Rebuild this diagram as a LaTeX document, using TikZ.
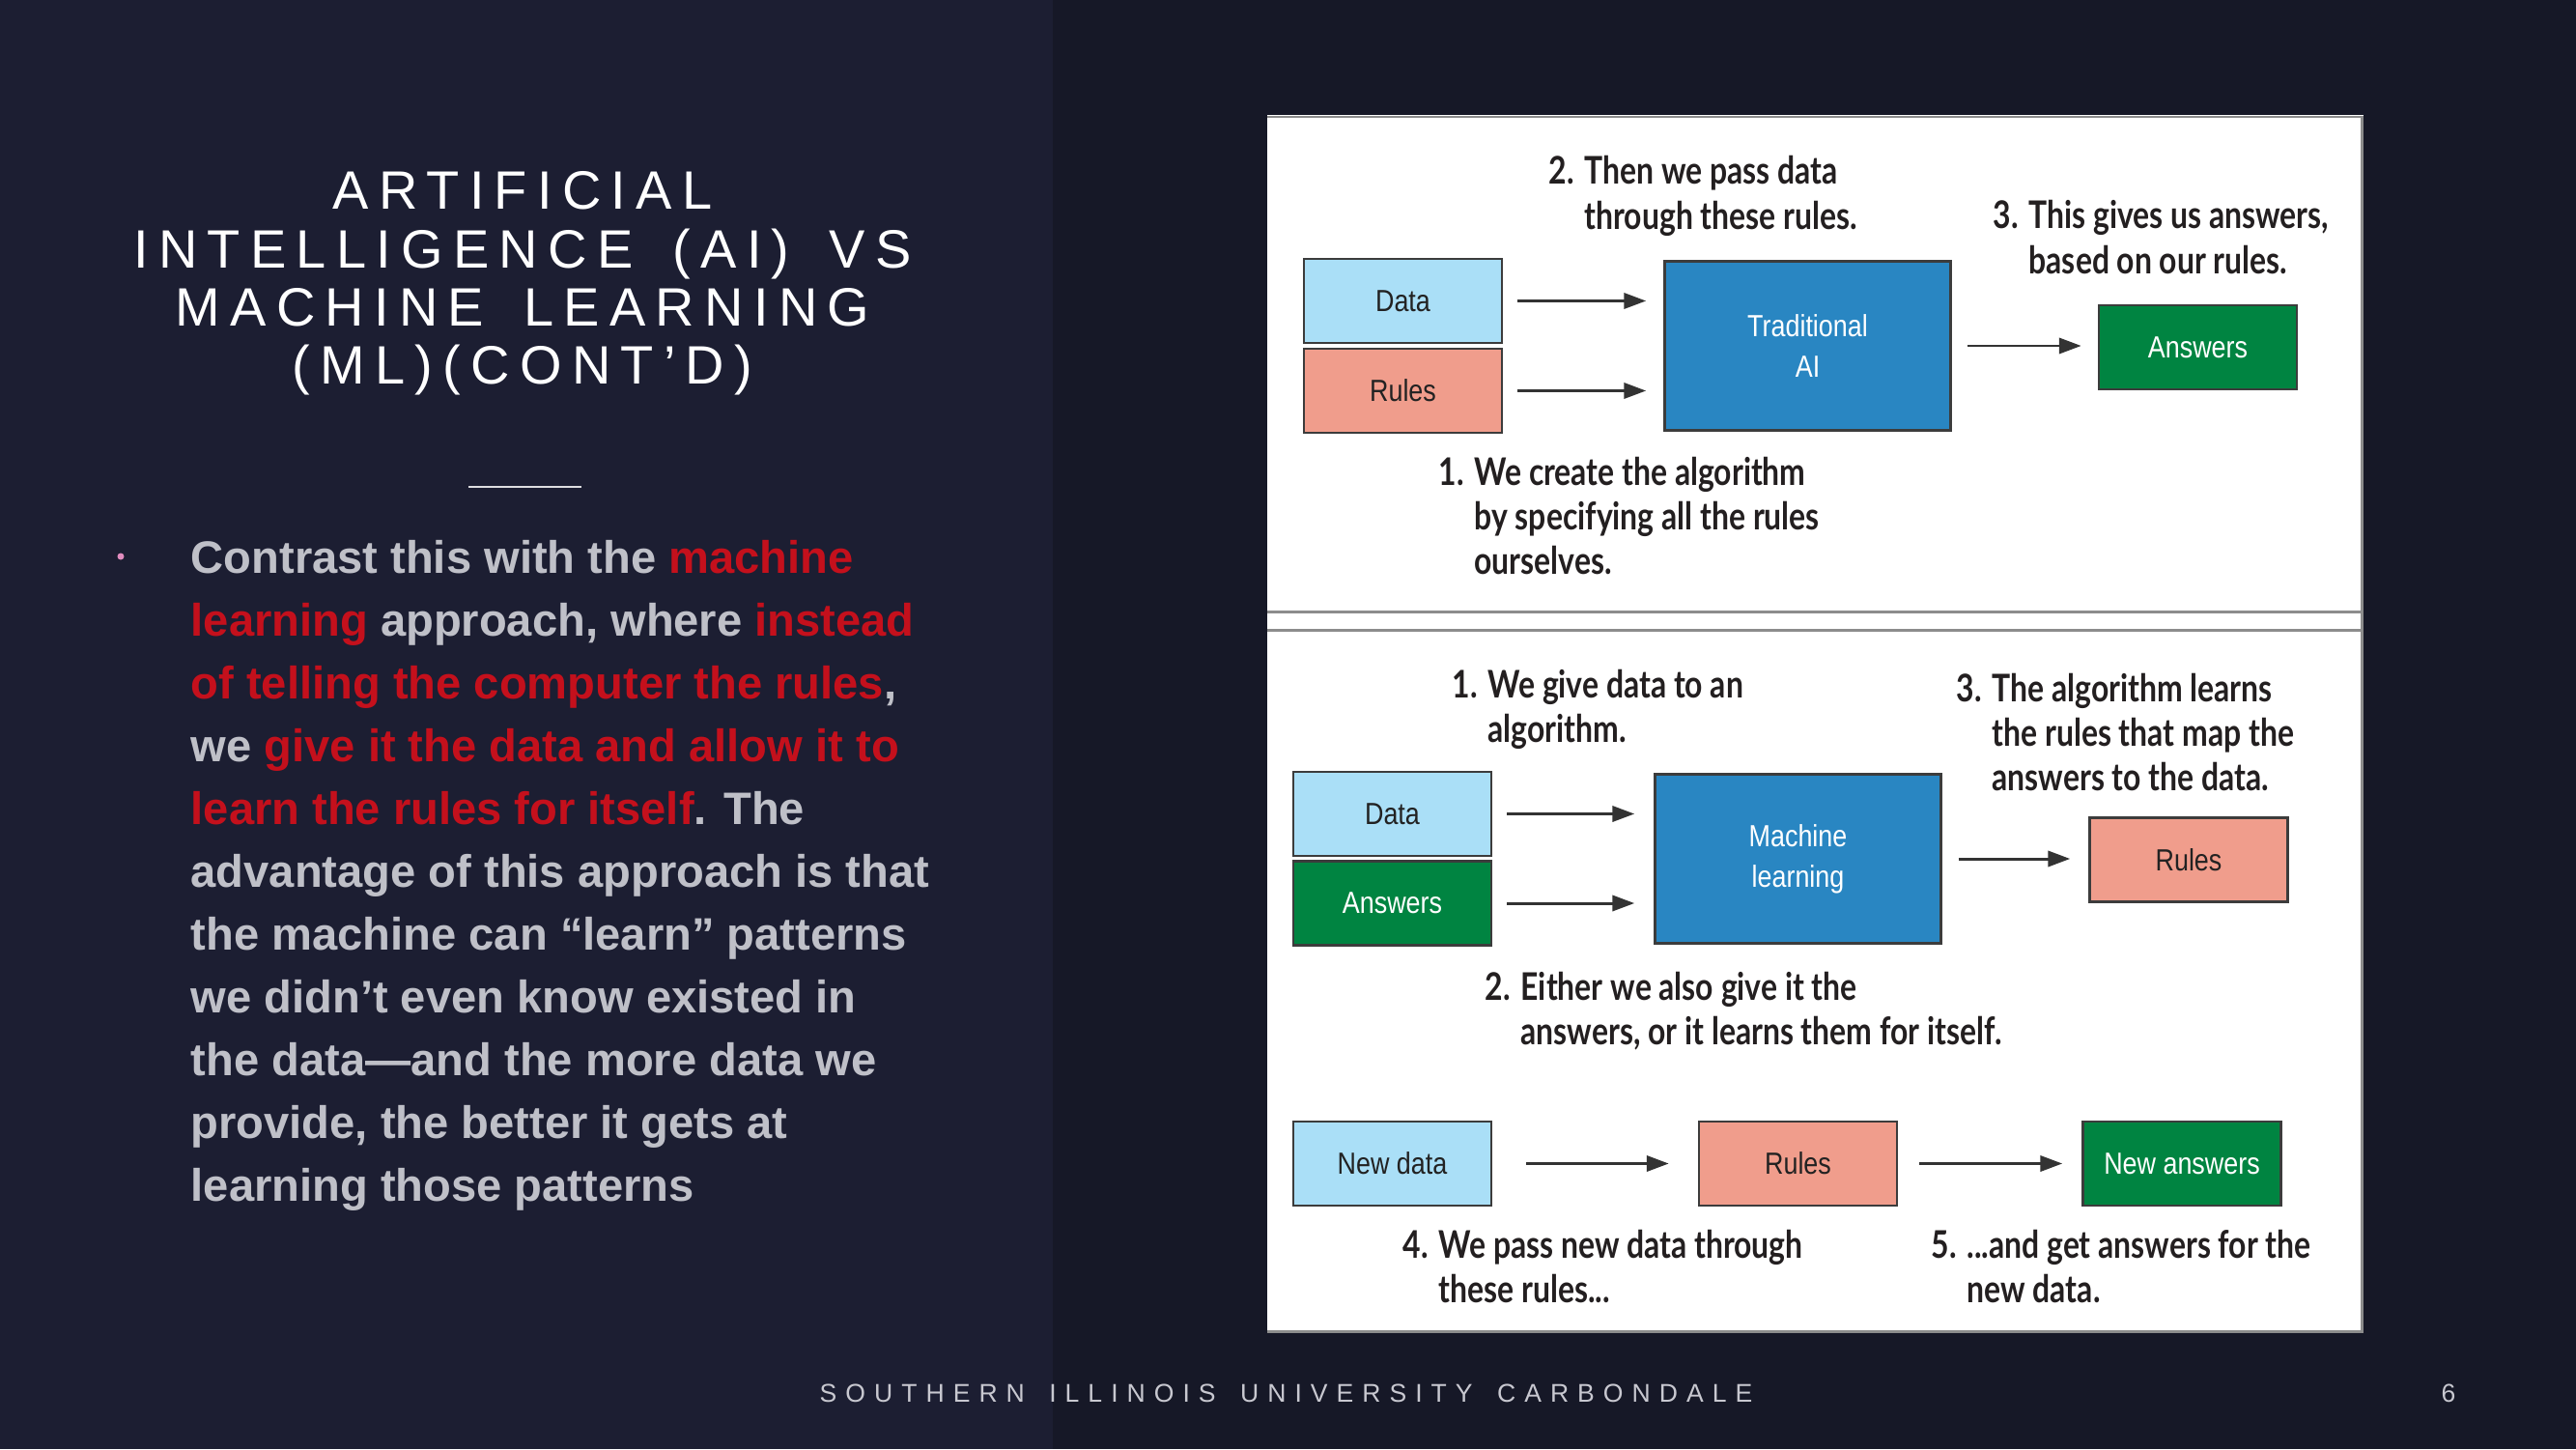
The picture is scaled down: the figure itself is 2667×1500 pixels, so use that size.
\documentclass[tikz,border=0pt]{standalone}
\usepackage{fontspec}
\usetikzlibrary{arrows.meta}
\setmainfont{Liberation Sans}
\newfontfamily\titlefont[LetterSpace=18.4,WordSpace=1.6]{Liberation Sans}
\newfontfamily\footfont[LetterSpace=34,WordSpace=1.55]{Liberation Sans}
\newfontfamily\boxfont[FakeStretch=0.85]{Liberation Sans}
\newfontfamily\labfont[FakeStretch=0.81]{Lato}

\definecolor{leftbg}{HTML}{1C1E32}
\definecolor{rightbg}{HTML}{161827}
\definecolor{bodygray}{HTML}{BFC0C8}
\definecolor{hired}{HTML}{C4101C}
\definecolor{bulletpink}{HTML}{E08CBE}
\definecolor{footgray}{HTML}{C8C8D0}
\definecolor{panelline}{HTML}{8C8C8C}
\definecolor{datablue}{HTML}{AADFF7}
\definecolor{rulesred}{HTML}{F09D8C}
\definecolor{aiblue}{HTML}{2986C2}
\definecolor{ansgreen}{HTML}{008441}
\definecolor{boxline}{HTML}{3C3C3C}
\definecolor{arrowgray}{HTML}{333333}
\definecolor{labtext}{HTML}{231F20}
\definecolor{boxtext}{HTML}{222222}

\newcommand{\hl}[1]{\textcolor{hired}{#1}}

\tikzset{
  box/.style={draw=boxline, line width=0.7pt, inner sep=0pt,
    minimum width=2.05cm, minimum height=0.87cm, align=center,
    font=\boxfont\fontsize{9}{12}\selectfont},
  bigbox/.style={box, minimum width=2.96cm, minimum height=1.75cm, fill=aiblue, text=white},
  databox/.style={box, fill=datablue, text=boxtext},
  rulesbox/.style={box, fill=rulesred, text=boxtext},
  ansbox/.style={box, fill=ansgreen, text=white},
  arr/.style={draw=arrowgray, line width=0.85pt, -{Triangle[length=6.5pt,width=4.6pt]}},
  lab/.style={anchor=base west, inner sep=0pt, text=labtext,
    font=\labfont\bfseries\fontsize{11.2}{13.2}\selectfont},
  pline/.style={draw=panelline, line width=0.85pt},
}

\begin{document}
\begin{tikzpicture}[x=0.01cm, y=-0.01cm]
\useasboundingbox (0,0) rectangle (2667,1500);

% backgrounds
\fill[rightbg] (0,0) rectangle (2667,1500);
\fill[leftbg] (0,0) rectangle (1090,1500);

% title block
\node[anchor=base, inner sep=0pt, text=white,
      font=\titlefont\fontsize{15.9}{17.07}\selectfont] (title) at (541,217)
  {\begin{tabular}[t]{@{}c@{}}ARTIFICIAL\\ INTELLIGENCE (AI) VS\\ MACHINE LEARNING\\ (ML)(CONT’D)\end{tabular}};
\draw[white!85!leftbg, line width=0.85pt] (485,504) -- (602,504);

% bullet text
\fill[bulletpink] (125,576) circle (3.5);
\node[anchor=base west, inner sep=0pt, text=bodygray,
      font=\bfseries\fontsize{13.4}{18.5}\selectfont] (body) at (197,593)
  {\begin{tabular}[t]{@{}l@{}}
   Contrast this with the \hl{machine}\\
   \hl{learning} approach, where \hl{instead}\\
   \hl{of telling the computer the rules},\\
   we \hl{give it the data and allow it to}\\
   \hl{learn the rules for itself}. The\\
   advantage of this approach is that\\
   the machine can “learn” patterns\\
   we didn’t even know existed in\\
   the data—and the more data we\\
   provide, the better it gets at\\
   learning those patterns
  \end{tabular}};

% footer
\node[anchor=base west, inner sep=0pt, text=footgray,
      font=\footfont\fontsize{7.55}{9}\selectfont] (foot) at (848,1451)
  {SOUTHERN ILLINOIS UNIVERSITY CARBONDALE};
\node[anchor=base west, inner sep=0pt, text=footgray,
      font=\footfont\fontsize{7.55}{9}\selectfont] (pagenum) at (2527,1451) {6};

% white figure panel
\fill[white] (1312,119) rectangle (2447,1380);
\draw[pline] (1312,121) -- (2445,121) -- (2445,1378) -- (1312,1378);
\draw[pline] (1312,633) -- (2445,633);
\draw[pline] (1312,652) -- (2445,652);

% ---- traditional AI ----
\node[databox]  (d1) at (1452.5,311.5) {Data};
\node[rulesbox] (r1) at (1452.5,404.5) {Rules};
\node[bigbox]   (tai) at (1871.5,358) {Traditional\\AI};
\node[ansbox]   (a1) at (2275.5,359.5) {Answers};
\draw[arr, shorten <=0.15cm, shorten >=0.18cm] (d1.east) -- (d1.east -| tai.west);
\draw[arr, shorten <=0.15cm, shorten >=0.18cm] (r1.east) -- (r1.east -| tai.west);
\draw[arr, shorten <=0.16cm, shorten >=0.17cm] (tai.east) -- (tai.east -| a1.west);

\node[lab] (t2) at (1603,191) {\begin{tabular}[t]{@{}p{10.5pt}@{}l@{}}2.&Then we pass data\\ &through these rules.\end{tabular}};
\node[lab] (t3) at (2063,237) {\begin{tabular}[t]{@{}p{10.5pt}@{}l@{}}3.&This gives us answers,\\ &based on our rules.\end{tabular}};
\node[lab] (t1) at (1489,502) {\begin{tabular}[t]{@{}p{10.5pt}@{}l@{}}1.&We create the algorithm\\ &by specifying all the rules\\ &ourselves.\end{tabular}};

% ---- machine learning ----
\node[databox] (d2) at (1441.5,842.5) {Data};
\node[ansbox]  (a2) at (1441.5,935) {Answers};
\node[bigbox]  (ml) at (1861.5,889) {Machine\\learning};
\node[rulesbox] (r2) at (2266,890) {Rules};
\draw[arr, shorten <=0.15cm, shorten >=0.20cm] (d2.east) -- (d2.east -| ml.west);
\draw[arr, shorten <=0.15cm, shorten >=0.20cm] (a2.east) -- (a2.east -| ml.west);
\draw[arr, shorten <=0.17cm, shorten >=0.19cm] (ml.east) -- (ml.east -| r2.west);

\node[lab] (m1) at (1503,722) {\begin{tabular}[t]{@{}p{10.5pt}@{}l@{}}1.&We give data to an\\ &algorithm.\end{tabular}};
\node[lab] (m3) at (2025,726) {\begin{tabular}[t]{@{}p{10.5pt}@{}l@{}}3.&The algorithm learns\\ &the rules that map the\\ &answers to the data.\end{tabular}};
\node[lab] (m2) at (1537,1035) {\begin{tabular}[t]{@{}p{10.5pt}@{}l@{}}2.&Either we also give it the\\ &answers, or it learns them for itself.\end{tabular}};

% ---- applying the learned rules ----
\node[databox]  (nd) at (1441.5,1204.5) {New data};
\node[rulesbox] (r3) at (1861.5,1204.5) {Rules};
\node[ansbox]   (na) at (2259,1204.5) {New answers};
\draw[arr, shorten <=0.35cm, shorten >=0.30cm] (nd.east) -- (r3.west);
\draw[arr, shorten <=0.22cm, shorten >=0.20cm] (r3.east) -- (na.west);

\node[lab] (m4) at (1452,1302) {\begin{tabular}[t]{@{}p{10.5pt}@{}l@{}}4.&We pass new data through\\ &these rules...\end{tabular}};
\node[lab] (m5) at (1999,1302) {\begin{tabular}[t]{@{}p{10.5pt}@{}l@{}}5.&...and get answers for the\\ &new data.\end{tabular}};
\end{tikzpicture}
\end{document}
